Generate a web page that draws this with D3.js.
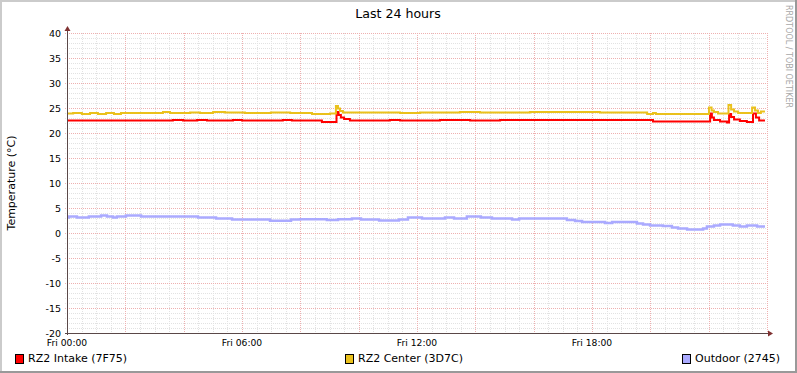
<!DOCTYPE html>
<meta charset="utf-8">
<style>
  body { margin: 0; background: #fff; }
  text { font-family: "DejaVu Sans", sans-serif; fill: #000; }
  .series { fill: none; }
</style>
<body>
<script src="https://d3js.org/d3.v7.min.js"></script>
<script>
// series: [hours since Fri 00:00, temperature °C]
var intake = [[0,22.5],[3.63,22.6],[3.98,22.5],[4.46,22.6],[4.80,22.5],[5.69,22.6],[6.00,22.5],
  [7.40,22.6],[7.71,22.5],[8.74,22.2],[9.24,24.2],[9.31,23.6],[9.39,23.1],[9.50,22.8],[9.70,22.5],
  [11.07,22.6],[11.42,22.5],[12.79,22.6],[13.82,22.5],[14.85,22.6],[20.09,22.3],[22.05,23.9],
  [22.11,23.1],[22.18,22.6],[22.39,22.3],[22.63,22.1],[22.70,23.8],[22.77,23.2],[22.87,22.7],
  [23.07,22.4],[23.31,22.2],[23.52,23.9],[23.62,23.1],[23.73,22.5],[23.93,22.5]];

var center = [[0,23.9],[0.21,24.0],[0.51,23.8],[0.79,24.0],[1.06,23.8],[1.34,24.0],[1.61,23.8],
  [1.85,24.0],[3.29,24.2],[3.53,24.0],[4.22,24.1],[4.56,24.0],[5.01,24.2],[5.42,24.1],[6.10,24.0],
  [6.99,24.1],[7.65,24.0],[8.40,23.8],[9.02,23.9],[9.22,25.4],[9.29,24.9],[9.36,24.4],[9.46,24.1],
  [11.42,24.0],[12.10,24.1],[13.47,24.2],[14.16,24.1],[15.87,24.2],[18.27,24.1],[19.89,23.8],
  [20.09,24.0],[20.19,23.8],[22.01,25.1],[22.10,24.5],[22.18,24.2],[22.32,23.9],[22.68,25.6],
  [22.77,24.7],[22.87,24.3],[23.01,24.0],[23.49,25.1],[23.59,24.5],[23.69,24.0],[23.79,24.3],[23.93,24.3]];

var outdoor = [[0,3.1],[0.07,3.3],[0.34,3.1],[0.75,3.3],[1.17,3.5],[1.37,3.3],[1.58,3.1],[1.71,3.3],
  [2.02,3.5],[2.54,3.3],[4.49,3.1],[5.11,2.9],[5.66,2.7],[6.96,2.45],[7.68,2.7],[7.99,2.75],
  [8.91,2.6],[9.29,2.75],[9.77,2.9],[10.08,2.7],[10.70,2.5],[11.38,2.7],[11.69,3.1],[12.17,2.9],
  [12.96,3.1],[13.27,2.9],[13.71,3.3],[14.19,3.1],[14.57,2.9],[15.26,2.7],[15.50,2.9],[17.14,2.6],
  [17.42,2.4],[17.66,2.2],[18.45,2.0],[18.69,2.2],[19.54,1.9],[19.75,1.7],[19.99,1.5],[20.43,1.4],
  [20.74,1.1],[20.95,0.9],[21.26,0.7],[21.81,0.9],[21.94,1.3],[22.18,1.5],[22.39,1.7],[22.83,1.5],
  [23.07,1.3],[23.31,1.5],[23.66,1.3],[23.93,1.3]];

var seriesNames = ["RZ2 Intake (7F75)", "RZ2 Center (3D7C)", "Outdoor (2745)"];
var seriesColors = ["#ff0000", "#eac11c", "#aaaaff"];
var seriesWidths = [2, 2, 2.5];
var yTicks = [-20, -15, -10, -5, 0, 5, 10, 15, 20, 25, 30, 35, 40];

var W = 797, H = 373;
var t0 = new Date(2024, 0, 5, 0, 0), t1 = new Date(2024, 0, 6, 0, 0);

var x = d3.scaleTime().domain([t0, t1]).range([67, 767]);
var y = d3.scaleLinear().domain([-20, 40]).range([333, 33]);

var svg = d3.select("body").append("svg")
    .attr("width", W).attr("height", H);

// background and bevel border
svg.append("rect").attr("width", W).attr("height", H).attr("fill", "#fff");
svg.append("rect").attr("x", 0).attr("y", 0).attr("width", W).attr("height", 2).attr("fill", "#cbcbcb");
svg.append("rect").attr("x", 0).attr("y", 0).attr("width", 2).attr("height", H).attr("fill", "#cbcbcb");
svg.append("rect").attr("x", 0).attr("y", H - 2).attr("width", W).attr("height", 2).attr("fill", "#999");
svg.append("rect").attr("x", W - 2).attr("y", 0).attr("width", 2).attr("height", H).attr("fill", "#999");

// grid: minor lines first, major (red) lines on top
var hv = d3.range(-20, 41, 1);
var vt = d3.timeMinute.every(30).range(t0, new Date(+t1 + 1));
function isMajorT(d) { return d.getMinutes() === 0 && d.getHours() % 2 === 0; }

function gridLine(sel, color) {
  return sel.attr("stroke", color).attr("stroke-width", 1)
    .attr("stroke-dasharray", "1,1").attr("shape-rendering", "crispEdges");
}

var g = svg.append("g");
gridLine(g.selectAll(".hmin").data(hv.filter(function(d) { return d % 5 !== 0; })).enter().append("line")
    .attr("x1", 65).attr("x2", 767)
    .attr("y1", function(d) { return Math.round(y(d)) + 0.5; })
    .attr("y2", function(d) { return Math.round(y(d)) + 0.5; }), "#e2e2e2");
gridLine(g.selectAll(".vmin").data(vt.filter(function(d) { return !isMajorT(d); })).enter().append("line")
    .attr("x1", function(d) { return Math.round(x(d)) + 0.5; })
    .attr("x2", function(d) { return Math.round(x(d)) + 0.5; })
    .attr("y1", 33).attr("y2", 335), "#e2e2e2");
gridLine(g.selectAll(".hmaj").data(hv.filter(function(d) { return d % 5 === 0; })).enter().append("line")
    .attr("x1", 65).attr("x2", 767)
    .attr("y1", function(d) { return Math.round(y(d)) + 0.5; })
    .attr("y2", function(d) { return Math.round(y(d)) + 0.5; }), "#eeb0b0");
gridLine(g.selectAll(".vmaj").data(vt.filter(isMajorT)).enter().append("line")
    .attr("x1", function(d) { return Math.round(x(d)) + 0.5; })
    .attr("x2", function(d) { return Math.round(x(d)) + 0.5; })
    .attr("y1", 33).attr("y2", 335), "#eeb0b0");

// lines
var line = d3.line()
    .x(function(d) { return x(new Date(+t0 + d[0] * 3600000)); })
    .y(function(d) { return y(d[1]); })
    .curve(d3.curveStepAfter);

[intake, center, outdoor].forEach(function(s, i) {
  svg.append("path").attr("class", "series")
     .attr("stroke", seriesColors[i])
     .attr("stroke-width", seriesWidths[i])
     .attr("d", line(s));
});

// axes
svg.append("line").attr("stroke", "#5a4848").attr("shape-rendering", "crispEdges")
    .attr("x1", 65).attr("x2", 770).attr("y1", 333.5).attr("y2", 333.5);
svg.append("line").attr("stroke", "#5a4848").attr("shape-rendering", "crispEdges")
    .attr("x1", 67.5).attr("x2", 67.5).attr("y1", 335).attr("y2", 30);
svg.append("path").attr("fill", "#7f3131").attr("d", "M768,330.5L773,333.5L768,336.5Z");
svg.append("path").attr("fill", "#7f3131").attr("d", "M64.5,31L67.5,26L70.5,31Z");

// tick labels
svg.selectAll(".ylab").data(yTicks).enter().append("text")
    .attr("x", 61).attr("y", function(d) { return y(d) + 3.5; })
    .attr("text-anchor", "end").style("font-size", "9.5px")
    .text(function(d) { return d; });

var fmt = d3.timeFormat("%a %H:%M");
svg.selectAll(".xlab").data(d3.timeHour.every(6).range(t0, t1)).enter().append("text")
    .attr("x", function(d) { return x(d); }).attr("y", 346)
    .attr("text-anchor", "middle").style("font-size", "9.2px")
    .text(function(d) { return fmt(d); });

// titles
svg.append("text").attr("x", 398).attr("y", 18).attr("text-anchor", "middle")
    .style("font-size", "12.6px").text("Last 24 hours");
svg.append("text").attr("transform", "translate(15,183) rotate(-90)").attr("text-anchor", "middle")
    .style("font-size", "11px").text("Temperature (°C)");
svg.append("text").attr("transform", "translate(786,5) rotate(90)")
    .style("font-size", "8px").style("fill", "#a8a8a8").text("RRDTOOL / TOBI OETIKER");

// legend
var legX = [15, 345, 682];
seriesNames.forEach(function(n, i) {
  svg.append("rect").attr("x", legX[i] + 0.5).attr("y", 354.5).attr("width", 8).attr("height", 9)
     .attr("fill", seriesColors[i]).attr("stroke", "#000").attr("stroke-width", 1);
  svg.append("text").attr("x", legX[i] + 13).attr("y", 362).style("font-size", "11px").text(n);
});
</script>
</body>
